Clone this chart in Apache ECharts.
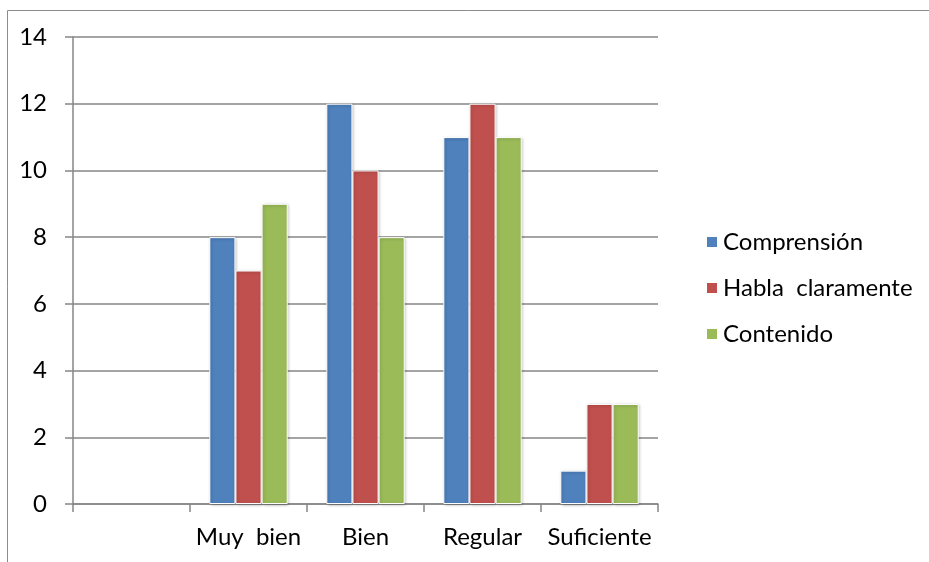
<!DOCTYPE html>
<html>
<head>
<meta charset="utf-8">
<script src="https://cdn.jsdelivr.net/npm/echarts@6/dist/echarts.min.js"></script>
<style>
html,body{margin:0;padding:0;background:#fff;}
#c{width:929px;height:562px;}
</style>
</head>
<body>
<div id="c"></div>
<script>
const categories = ['', 'Muy  bien', 'Bien', 'Regular', 'Suficiente'];
const seriesNames = ['Comprensión', 'Habla  claramente', 'Contenido'];
const comprension = [null, 8, 12, 11, 1];
const habla = [null, 7, 10, 12, 3];
const contenido = [null, 9, 8, 11, 3];
const yTicks = { min: 0, max: 14, interval: 2 };
const colors = ['#4F81BD', '#C0504D', '#9BBB59'];

const FONT = 'Lato, "Open Sans", sans-serif';
const FS = 24;
const chart = echarts.init(document.getElementById('c'));
const barStyle = (c) => ({
  color: c, borderColor: '#fff', borderWidth: 1,
  shadowBlur: 3, shadowColor: 'rgba(0,0,0,0.25)', shadowOffsetX: 1, shadowOffsetY: 1
});
const data = [comprension, habla, contenido];
chart.setOption({
  animation: false,
  color: colors,
  graphic: [{
    type: 'rect', left: 5, top: 8, silent: true,
    shape: { width: 1000, height: 1000 },
    style: { fill: 'none', stroke: '#8c8c8c', lineWidth: 1 }
  }],
  grid: { left: 73, right: 271, top: 37, bottom: 58 },
  legend: {
    orient: 'vertical', left: 700, top: 225,
    itemWidth: 12, itemHeight: 12, itemGap: 22,
    icon: 'rect',
    textStyle: { fontFamily: FONT, fontSize: FS, color: '#000' },
    data: seriesNames
  },
  xAxis: {
    type: 'category', data: categories,
    axisLine: { lineStyle: { color: '#868686', width: 1.5 } },
    axisTick: { show: true, length: 8, interval: 0, lineStyle: { color: '#868686', width: 1.5 } },
    axisLabel: { interval: 0, hideOverlap: false, fontFamily: FONT, fontSize: FS, color: '#000', margin: 21 },
    splitLine: { show: false }
  },
  yAxis: {
    type: 'value', min: yTicks.min, max: yTicks.max, interval: yTicks.interval,
    axisLine: { show: true, lineStyle: { color: '#868686', width: 1.5 } },
    axisTick: { show: true, length: 8, lineStyle: { color: '#868686', width: 1.5 } },
    axisLabel: { fontFamily: FONT, fontSize: FS, color: '#000', margin: 26 },
    splitLine: { show: true, lineStyle: { color: '#868686', width: 1.5 } }
  },
  series: seriesNames.map((n, i) => ({
    name: n, type: 'bar', data: data[i],
    barGap: '0%', barCategoryGap: '33%',
    itemStyle: barStyle(colors[i])
  }))
});
</script>
</body>
</html>
